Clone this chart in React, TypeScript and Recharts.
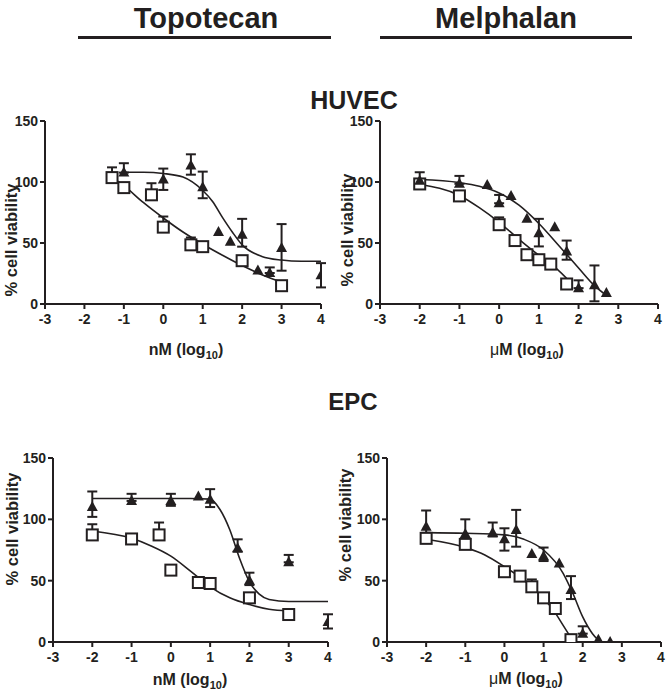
import React from 'react';
import { ComposedChart, XAxis, YAxis, Line, Scatter, ErrorBar } from 'recharts';

const INK = '#231f20';
const FONT = '"Liberation Sans", Arial, Helvetica, sans-serif';

const xTicks = [-3, -2, -1, 0, 1, 2, 3, 4];
const yTicks = [0, 50, 100, 150];

// ---------- HUVEC / Topotecan (nM) ----------
const huvecTopoSqX = [-1.3, -1, -0.3, 0, 0.7, 1, 2, 3];
const huvecTopoSqY = [103.6, 95.4, 89.5, 63, 48.5, 47, 35.5, 15];
const huvecTopoSqHi = [112, null, 99, 71.7, 54.5, null, 39, null];
const huvecTopoSqLo = [null, null, null, null, null, null, null, null];
const huvecTopoTrX = [-1, 0, 0.7, 1, 1.4, 1.7, 2, 2.4, 2.7, 3, 4];
const huvecTopoTrY = [107.7, 102, 113.5, 95.7, 59, 51, 56.7, 27.5, 25.4, 45.8, 23.5];
const huvecTopoTrHi = [115.4, 111, 122.7, 108.5, null, null, 69.8, null, 30, 65.5, 33.5];
const huvecTopoTrLo = [null, 93.5, 106, 86.7, null, null, 47, null, null, 27.3, 13.6];
const huvecTopoSqFitX = [-1.3, -1, -0.5, 0, 0.5, 1, 1.5, 2, 2.5, 3];
const huvecTopoSqFitY = [104, 97, 83, 70.5, 59, 49, 40, 31.5, 24, 18];
const huvecTopoTrFitX = [-1, -0.5, 0, 0.5, 1, 1.25, 1.5, 1.75, 2, 2.5, 3, 3.5, 4];
const huvecTopoTrFitY = [108, 108, 107, 104, 93, 84, 71, 59, 48.5, 39, 36, 35, 35];

// ---------- HUVEC / Melphalan (uM) ----------
const huvecMelSqX = [-2, -1, 0, 0.4, 0.7, 1, 1.3, 1.7];
const huvecMelSqY = [98.4, 88.6, 65, 52, 40.4, 36.3, 32.7, 16.4];
const huvecMelSqHi = [null, null, 71, null, null, null, null, 20.5];
const huvecMelSqLo = [null, null, null, null, null, null, null, null];
const huvecMelTrX = [-2, -1, -0.3, 0, 0.3, 0.7, 1, 1.4, 1.7, 2, 2.4, 2.7];
const huvecMelTrY = [101, 98.5, 97.6, 82.6, 88.6, 69.8, 58, 63, 43, 13, 15.3, 9];
const huvecMelTrHi = [108, 105, null, 89.4, null, null, 69.8, null, 52, 19.4, 31.6, null];
const huvecMelTrLo = [null, null, null, null, null, null, 47.2, null, 36.3, null, 2.2, null];
const huvecMelSqFitX = [-2, -1, -0.5, 0, 0.5, 1, 1.3, 1.7];
const huvecMelSqFitY = [98, 89, 79, 67, 53, 40, 33, 21];
const huvecMelTrFitX = [-2, -1, -0.5, 0, 0.5, 1, 1.5, 2, 2.4, 2.7];
const huvecMelTrFitY = [102, 99.5, 96.5, 91, 81, 66, 48, 29.5, 15, 7];

// ---------- EPC / Topotecan (nM) ----------
const epcTopoSqX = [-2, -1, -0.3, 0, 0.7, 1, 2, 3];
const epcTopoSqY = [87.3, 84, 87.3, 58.6, 48.5, 47.7, 36, 22.4];
const epcTopoSqHi = [96, null, 97.4, null, null, null, null, 26];
const epcTopoSqLo = [null, null, null, null, null, null, null, null];
const epcTopoTrX = [-2, -1, 0, 0.7, 1, 1.7, 2, 3, 4];
const epcTopoTrY = [110, 115, 115, 118.6, 116, 76.4, 50, 65, 16.4];
const epcTopoTrHi = [122.7, 120.8, 120.8, null, 124.6, 83.7, 56.5, 71, 22.6];
const epcTopoTrLo = [102, null, 111, null, 110, 73.6, 46.4, null, 11];
const epcTopoSqFitX = [-2, -1, -0.5, 0, 0.5, 1, 1.5, 2, 2.5, 3];
const epcTopoSqFitY = [90.5, 84.5, 78.3, 70, 57.8, 45, 36, 30.5, 26.7, 25.4];
const epcTopoTrFitX = [-2, -1, 0, 0.5, 1, 1.25, 1.5, 1.75, 2, 2.25, 2.5, 3, 4];
const epcTopoTrFitY = [117, 117, 117, 117, 116.5, 108, 91.5, 68, 49, 39, 34.6, 33, 33];

// ---------- EPC / Melphalan (uM) ----------
const epcMelSqX = [-2, -1, 0, 0.4, 0.7, 1, 1.3, 1.7];
const epcMelSqY = [84.5, 79.6, 57.3, 53.7, 45, 36, 27.3, 1.9];
const epcMelSqHi = [88, null, null, null, 51, null, null, null];
const epcMelSqLo = [null, null, null, null, null, null, null, null];
const epcMelTrX = [-2, -1, -0.3, 0, 0.3, 0.7, 1, 1.4, 1.7, 2, 2.4, 2.7];
const epcMelTrY = [94, 88, 89, 83.7, 91.4, 71.7, 70, 64, 42.3, 6.8, 1.9, 0];
const epcMelTrHi = [107.2, 100, 97.4, 92.7, 107.7, null, 77, null, 53.7, 12.8, null, null];
const epcMelTrLo = [89, 81, 86, 74.5, 77.7, null, 66, null, 35, null, null, null];
const epcMelSqFitX = [-2, -1, -0.5, 0, 0.5, 1, 1.25, 1.5, 1.7];
const epcMelSqFitY = [83.7, 77, 71, 61.4, 50.5, 35.5, 26, 13.6, 3.5];
const epcMelTrFitX = [-2, -1, 0, 0.5, 1, 1.5, 1.75, 2, 2.25, 2.4];
const epcMelTrFitY = [89.2, 88.6, 87.3, 83.7, 75, 56, 39.5, 20.5, 6.8, 1.4];

type Pt = { x: number; y: number; err: [number, number]; has: boolean };

function points(xs: number[], ys: number[], hi: (number | null)[], lo: (number | null)[]): Pt[] {
  return xs.map((x, i) => {
    const h = hi[i];
    const l = lo[i];
    return {
      x,
      y: ys[i],
      err: [l != null ? ys[i] - l : 0, h != null ? h - ys[i] : 0],
      has: h != null || l != null,
    };
  });
}

function curve(xs: number[], ys: number[]) {
  return xs.map((x, i) => ({ x, y: ys[i] }));
}

const Square = (p: any) => (
  <rect x={p.cx - 5.5} y={p.cy - 5.5} width={11} height={11} fill="#fff" stroke={INK} strokeWidth={2} />
);
const Triangle = (p: any) => (
  <polygon points={`${p.cx},${p.cy - 6} ${p.cx - 5.5},${p.cy + 4} ${p.cx + 5.5},${p.cy + 4}`} fill={INK} />
);
const Empty = () => <g />;

type PanelProps = {
  plotLeft: number;
  plotTop: number;
  plotRight: number;
  plotBottom: number;
  unit: 'nM' | 'uM';
  yLabelX: number;
  yLabelY: number;
  xLabelX: number;
  xLabelY: number;
  sq: Pt[];
  tr: Pt[];
  sqFit: { x: number; y: number }[];
  trFit: { x: number; y: number }[];
};

const ML = 50;
const MT = 15;
const MR = 15;
const XH = 60;

function Panel(p: PanelProps) {
  const divLeft = p.plotLeft - ML;
  const divTop = p.plotTop - MT;
  const width = p.plotRight - p.plotLeft + ML + MR;
  const height = p.plotBottom - p.plotTop + MT + XH;
  const tickStyle = { fontSize: 14, fontWeight: 'bold' as const, fill: INK, fontFamily: FONT };
  const yLabel = () => (
    <text
      transform={`translate(${p.yLabelX - divLeft},${p.yLabelY - divTop}) rotate(-90)`}
      textAnchor="middle"
      dominantBaseline="central"
      fontSize={16.5}
      fontWeight="bold"
      fill={INK}
      fontFamily={FONT}
    >
      % cell viability
    </text>
  );
  const xLabel = () => (
    <text
      x={p.xLabelX - divLeft}
      y={p.xLabelY - divTop}
      textAnchor="middle"
      fontSize={16}
      fontWeight="bold"
      fill={INK}
      fontFamily={FONT}
    >
      {p.unit === 'nM' ? (
        <tspan>nM (log</tspan>
      ) : (
        <>
          <tspan fontWeight="normal">{'\u03bc'}</tspan>
          <tspan>M (log</tspan>
        </>
      )}
      <tspan dy={4} fontSize={11}>10</tspan>
      <tspan dy={-4}>)</tspan>
    </text>
  );
  return (
    <div style={{ position: 'absolute', left: divLeft, top: divTop, width, height }}>
      <ComposedChart width={width} height={height} margin={{ top: MT, right: MR, bottom: 0, left: 0 }}>
        <XAxis
          type="number"
          dataKey="x"
          domain={[-3, 4]}
          ticks={xTicks}
          allowDataOverflow
          height={XH}
          tickSize={5}
          tickMargin={5}
          axisLine={{ stroke: INK, strokeWidth: 2 }}
          tickLine={{ stroke: INK, strokeWidth: 2 }}
          tick={tickStyle}
          label={xLabel}
        />
        <YAxis
          type="number"
          dataKey="y"
          domain={[0, 150]}
          ticks={yTicks}
          allowDataOverflow
          width={ML}
          tickSize={5}
          tickMargin={2}
          axisLine={{ stroke: INK, strokeWidth: 2 }}
          tickLine={{ stroke: INK, strokeWidth: 2 }}
          tick={tickStyle}
          label={yLabel}
        />
        <Scatter data={p.sq.filter((d) => d.has)} dataKey="y" shape={Empty} isAnimationActive={false}>
          <ErrorBar dataKey="err" direction="y" width={5} stroke={INK} strokeWidth={2} isAnimationActive={false} />
        </Scatter>
        <Scatter data={p.tr.filter((d) => d.has)} dataKey="y" shape={Empty} isAnimationActive={false}>
          <ErrorBar dataKey="err" direction="y" width={5} stroke={INK} strokeWidth={2} isAnimationActive={false} />
        </Scatter>
        <Line data={p.sqFit} dataKey="y" type="monotone" stroke={INK} strokeWidth={1.6} dot={false} activeDot={false} isAnimationActive={false} />
        <Line data={p.trFit} dataKey="y" type="monotone" stroke={INK} strokeWidth={1.6} dot={false} activeDot={false} isAnimationActive={false} />
        <Scatter data={p.sq} dataKey="y" shape={Square} isAnimationActive={false} />
        <Scatter data={p.tr} dataKey="y" shape={Triangle} isAnimationActive={false} />
      </ComposedChart>
    </div>
  );
}

export default function App() {
  return (
    <div style={{ position: 'absolute', left: 0, top: 0, width: 667, height: 691, background: '#fff', fontFamily: FONT }}>
      <svg width={667} height={691} style={{ position: 'absolute', left: 0, top: 0 }}>
        <text x={206} y={28} textAnchor="middle" fontSize={29} fontWeight="bold" fill={INK} fontFamily={FONT}>Topotecan</text>
        <text x={506} y={28} textAnchor="middle" fontSize={29} fontWeight="bold" fill={INK} fontFamily={FONT}>Melphalan</text>
        <line x1={78} x2={331} y1={37.5} y2={37.5} stroke={INK} strokeWidth={3} />
        <line x1={380} x2={632} y1={37.5} y2={37.5} stroke={INK} strokeWidth={3} />
        <text x={354} y={109} textAnchor="middle" fontSize={25} fontWeight="bold" fill={INK} fontFamily={FONT}>HUVEC</text>
        <text x={353} y={410} textAnchor="middle" fontSize={24} fontWeight="bold" fill={INK} fontFamily={FONT}>EPC</text>
      </svg>
      <Panel
        plotLeft={45} plotTop={121} plotRight={321} plotBottom={304} unit="nM"
        yLabelX={11} yLabelY={240} xLabelX={186} xLabelY={355}
        sq={points(huvecTopoSqX, huvecTopoSqY, huvecTopoSqHi, huvecTopoSqLo)}
        tr={points(huvecTopoTrX, huvecTopoTrY, huvecTopoTrHi, huvecTopoTrLo)}
        sqFit={curve(huvecTopoSqFitX, huvecTopoSqFitY)}
        trFit={curve(huvecTopoTrFitX, huvecTopoTrFitY)}
      />
      <Panel
        plotLeft={380} plotTop={121} plotRight={658} plotBottom={304} unit="uM"
        yLabelX={347} yLabelY={230} xLabelX={527} xLabelY={355}
        sq={points(huvecMelSqX, huvecMelSqY, huvecMelSqHi, huvecMelSqLo)}
        tr={points(huvecMelTrX, huvecMelTrY, huvecMelTrHi, huvecMelTrLo)}
        sqFit={curve(huvecMelSqFitX, huvecMelSqFitY)}
        trFit={curve(huvecMelTrFitX, huvecMelTrFitY)}
      />
      <Panel
        plotLeft={53} plotTop={458} plotRight={328} plotBottom={642} unit="nM"
        yLabelX={12} yLabelY={529} xLabelX={190} xLabelY={685}
        sq={points(epcTopoSqX, epcTopoSqY, epcTopoSqHi, epcTopoSqLo)}
        tr={points(epcTopoTrX, epcTopoTrY, epcTopoTrHi, epcTopoTrLo)}
        sqFit={curve(epcTopoSqFitX, epcTopoSqFitY)}
        trFit={curve(epcTopoTrFitX, epcTopoTrFitY)}
      />
      <Panel
        plotLeft={387} plotTop={458} plotRight={661} plotBottom={642} unit="uM"
        yLabelX={345} yLabelY={525} xLabelX={526} xLabelY={684}
        sq={points(epcMelSqX, epcMelSqY, epcMelSqHi, epcMelSqLo)}
        tr={points(epcMelTrX, epcMelTrY, epcMelTrHi, epcMelTrLo)}
        sqFit={curve(epcMelSqFitX, epcMelSqFitY)}
        trFit={curve(epcMelTrFitX, epcMelTrFitY)}
      />
    </div>
  );
}
